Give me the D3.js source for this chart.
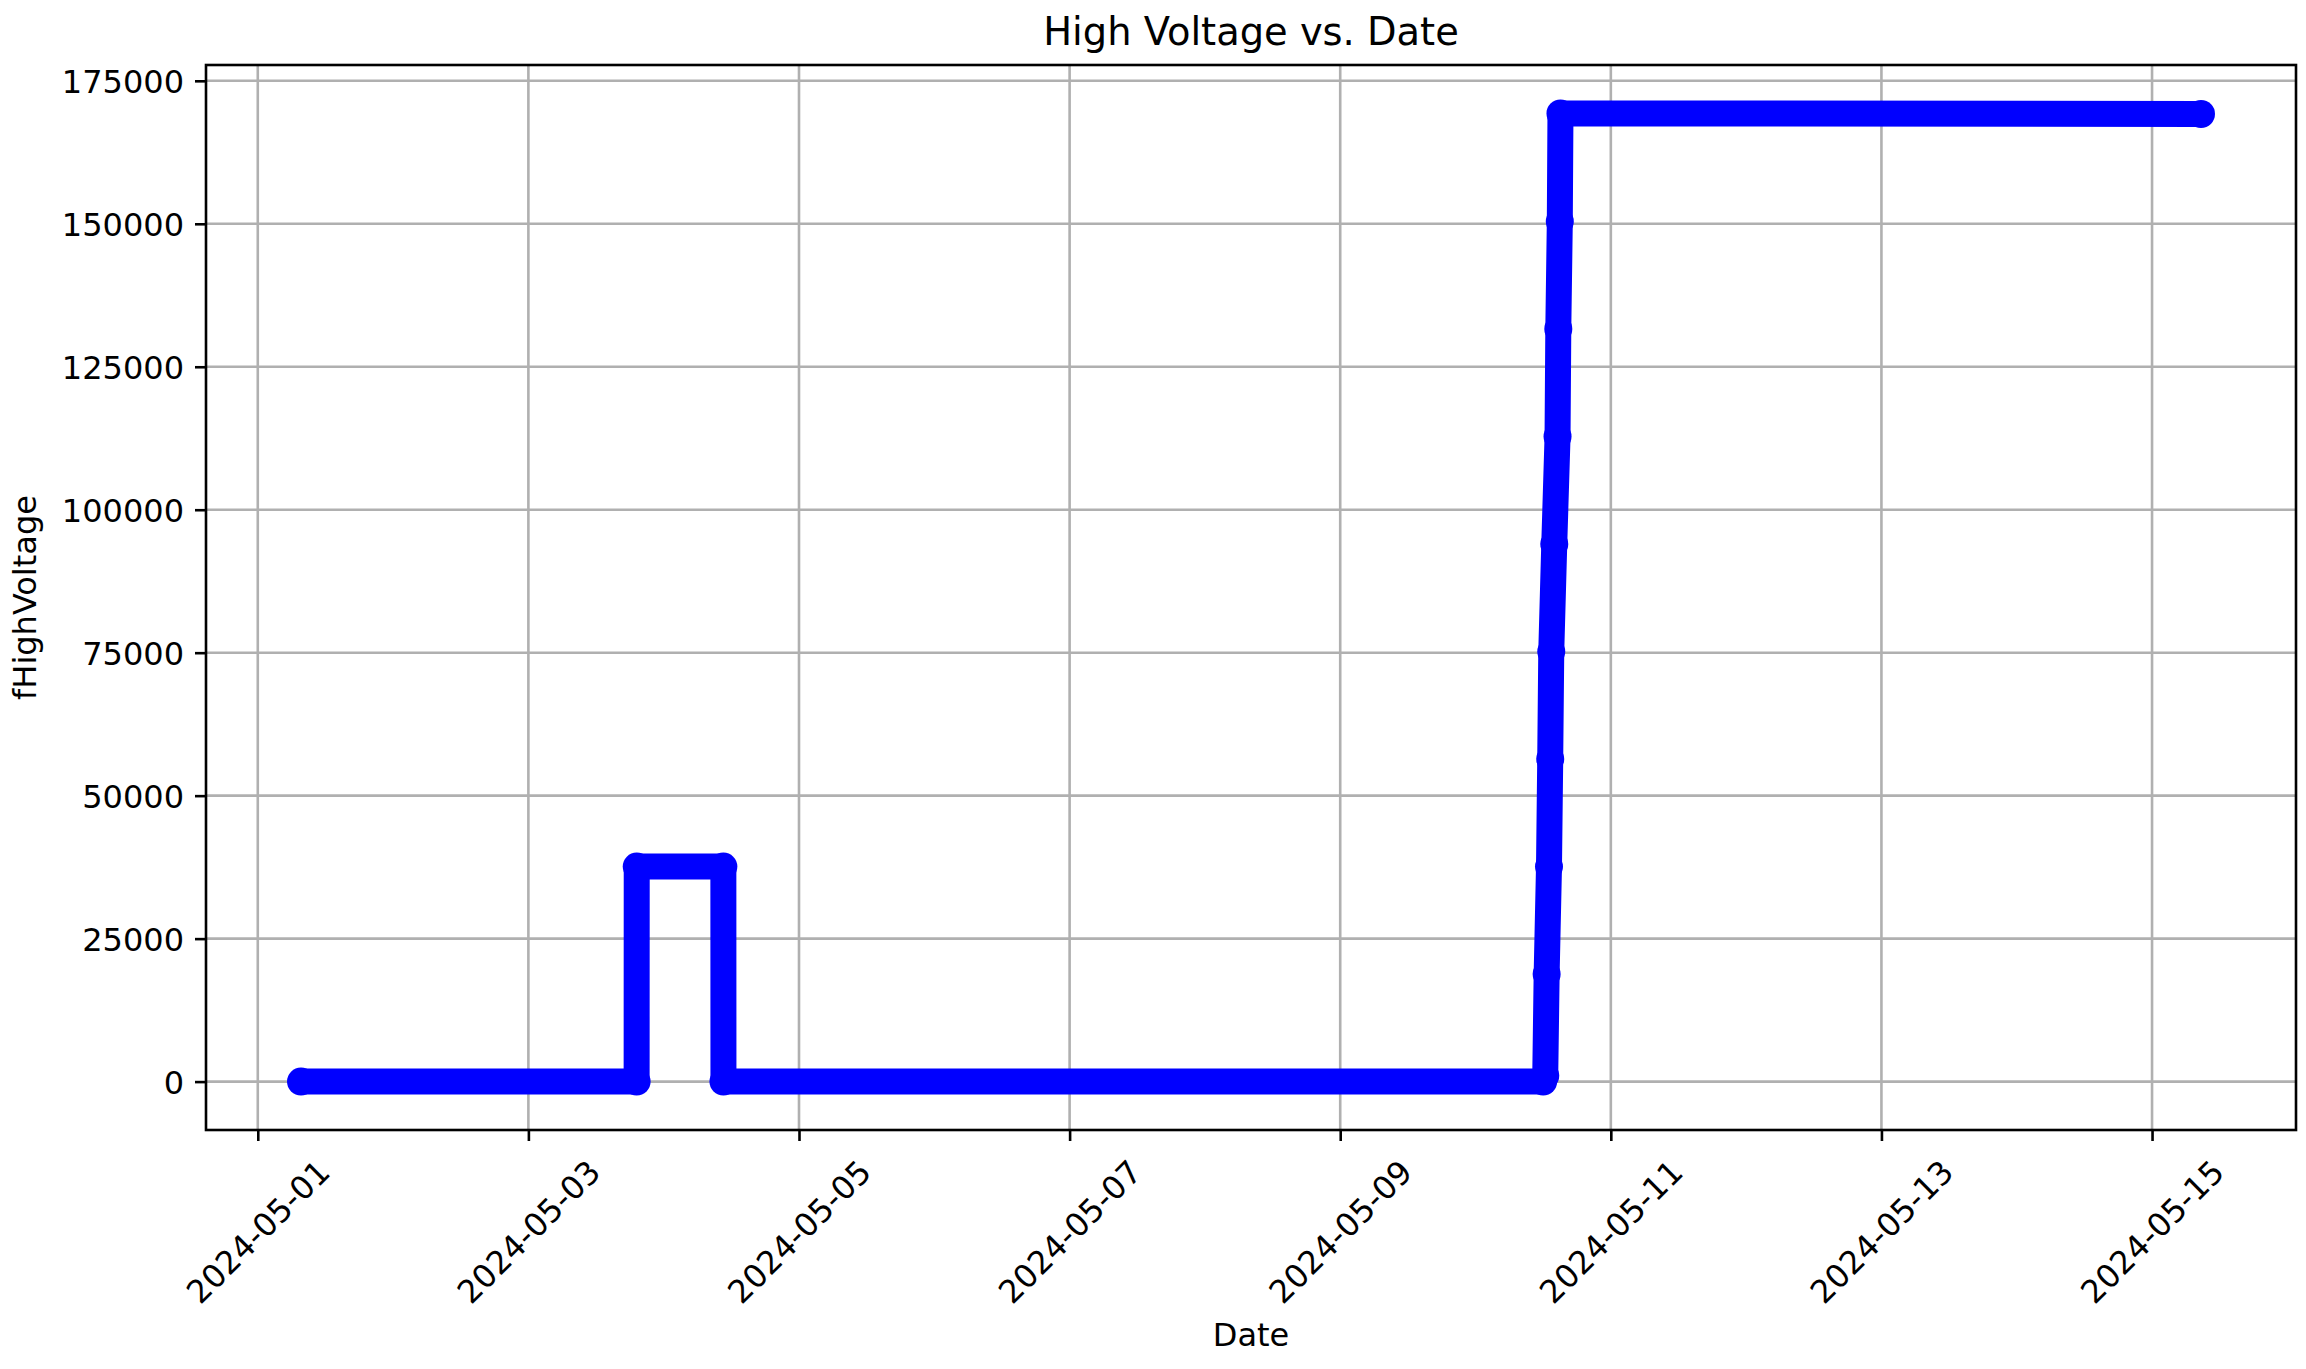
<!DOCTYPE html>
<html>
<head>
<meta charset="utf-8">
<script src="https://cdn.jsdelivr.net/npm/d3@7"></script>
<style>
  body { margin: 0; background: #fff; }
  text { font-family: "DejaVu Sans", sans-serif; fill: #000; }
</style>
</head>
<body>
<svg id="main_chart"></svg>
<script>
// readings (UTC times)
let times = [
  "2024-05-01T07:40", "2024-05-03T19:12", "2024-05-03T19:13",
  "2024-05-04T10:35", "2024-05-04T10:36", "2024-05-10T12:00",
  "2024-05-10T12:22", "2024-05-10T12:37", "2024-05-10T13:02",
  "2024-05-10T13:15", "2024-05-10T13:26", "2024-05-10T13:58",
  "2024-05-10T14:33", "2024-05-10T14:41", "2024-05-10T14:57",
  "2024-05-10T15:04", "2024-05-15T08:41"
]
let voltages = [
  0, 0, 37600,
  37600, 0, 0,
  1000, 18800, 37600,
  56400, 75200, 94000,
  112800, 131600, 150400,
  169300, 169200
]
let yTicks = [0, 25000, 50000, 75000, 100000, 125000, 150000, 175000]
let xTickLabels = ["2024-05-01", "2024-05-03", "2024-05-05", "2024-05-07",
                   "2024-05-09", "2024-05-11", "2024-05-13", "2024-05-15"]

let parseTime = d3.utcParse("%Y-%m-%dT%H:%M")
let parseDay = d3.utcParse("%Y-%m-%d")

function getConfig() {
  let width = 2306
  let height = 1369
  let margin = { top: 65, bottom: 239, left: 206, right: 10 }
  let bodyWidth = width - margin.left - margin.right
  let bodyHeight = height - margin.top - margin.bottom
  let container = d3.select("#main_chart")
    .attr("width", width)
    .attr("height", height)
  return { width, height, margin, bodyWidth, bodyHeight, container }
}

// matplotlib style 5% margins around the data
function padded(lo, hi) {
  let r = hi - lo
  return [lo - 0.05 * r, hi + 0.05 * r]
}

function getScales(data, config) {
  let { bodyWidth, bodyHeight } = config
  let tExt = d3.extent(data, d => +d.t)
  let vExt = d3.extent(data, d => d.v)
  let xScale = d3.scaleUtc()
    .domain(padded(tExt[0], tExt[1]).map(t => new Date(t)))
    .range([0, bodyWidth])
  let yScale = d3.scaleLinear()
    .domain(padded(vExt[0], vExt[1]))
    .range([bodyHeight, 0])
  return { xScale, yScale }
}

function drawChart(data) {
  let config = getConfig()
  let { margin, container, bodyWidth, bodyHeight } = config
  let { xScale, yScale } = getScales(data, config)
  let xTicks = xTickLabels.map(parseDay)

  let body = container.append("g")
    .attr("transform", `translate(${margin.left},${margin.top})`)

  body.append("clipPath").attr("id", "clip")
    .append("rect").attr("width", bodyWidth).attr("height", bodyHeight)

  // grid
  body.append("g").selectAll("line").data(xTicks).join("line")
    .attr("x1", d => xScale(d)).attr("x2", d => xScale(d))
    .attr("y1", 0).attr("y2", bodyHeight)
    .attr("stroke", "#b0b0b0").attr("stroke-width", 2.6)
  body.append("g").selectAll("line").data(yTicks).join("line")
    .attr("y1", d => yScale(d)).attr("y2", d => yScale(d))
    .attr("x1", 0).attr("x2", bodyWidth)
    .attr("stroke", "#b0b0b0").attr("stroke-width", 2.6)

  // the series
  let plot = body.append("g").attr("clip-path", "url(#clip)")
  let line = d3.line().x(d => xScale(d.t)).y(d => yScale(d.v))
  plot.append("path")
    .datum(data)
    .attr("d", line)
    .attr("fill", "none")
    .attr("stroke", "#0000ff")
    .attr("stroke-width", 26)
    .attr("stroke-linejoin", "round")
  plot.selectAll("circle").data(data).join("circle")
    .attr("cx", d => xScale(d.t))
    .attr("cy", d => yScale(d.v))
    .attr("r", 14)
    .attr("fill", "#0000ff")

  // axes
  let yAxis = body.append("g")
    .call(d3.axisLeft(yScale).tickValues(yTicks).tickFormat(d3.format("d"))
      .tickSize(11).tickPadding(11))
  let xAxis = body.append("g")
    .attr("transform", `translate(0,${bodyHeight})`)
    .call(d3.axisBottom(xScale).tickValues(xTicks).tickFormat((d, i) => xTickLabels[i])
      .tickSize(11).tickPadding(11))
  for (let ax of [xAxis, yAxis]) {
    ax.select(".domain").remove()
    ax.selectAll(".tick line").attr("stroke", "#000").attr("stroke-width", 2.6)
    ax.selectAll("text").style("font-size", "32px").attr("fill", "#000")
  }
  yAxis.selectAll("text").attr("dy", "0.36em")
  xAxis.selectAll(".tick text")
    .attr("y", null).attr("dy", null)
    .attr("text-anchor", "middle")
    .attr("dominant-baseline", "central")
    .attr("transform", "translate(0,102) rotate(-45)")

  // frame
  body.append("rect")
    .attr("width", bodyWidth).attr("height", bodyHeight)
    .attr("fill", "none").attr("stroke", "#000").attr("stroke-width", 2.6)

  // labels
  container.append("text")
    .attr("x", margin.left + bodyWidth / 2).attr("y", 45)
    .attr("text-anchor", "middle")
    .style("font-size", "38.4px")
    .text("High Voltage vs. Date")
  container.append("text")
    .attr("x", margin.left + bodyWidth / 2).attr("y", 1346)
    .attr("text-anchor", "middle")
    .style("font-size", "32px")
    .text("Date")
  container.append("text")
    .attr("transform", `translate(36,${margin.top + bodyHeight / 2}) rotate(-90)`)
    .attr("text-anchor", "middle")
    .style("font-size", "32px")
    .text("fHighVoltage")
}

let data = times.map((t, i) => ({ t: parseTime(t), v: voltages[i] }))
drawChart(data)
</script>
</body>
</html>
